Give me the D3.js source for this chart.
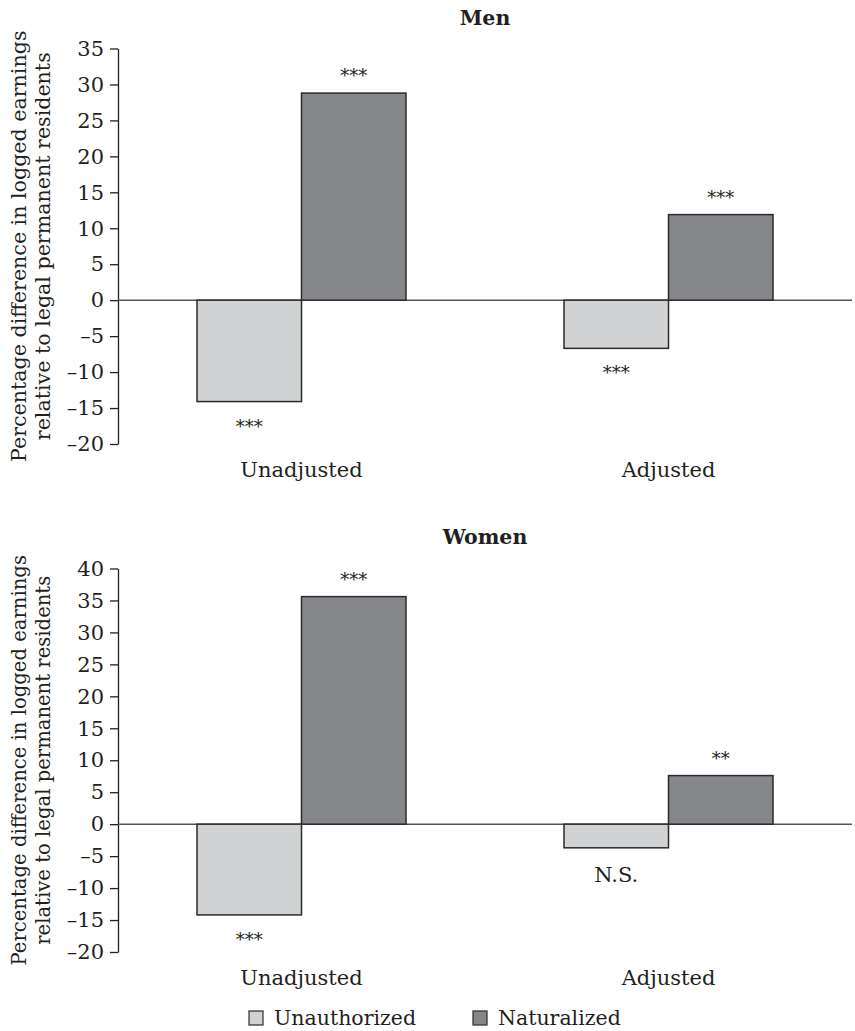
<!DOCTYPE html>
<html>
<head>
<meta charset="utf-8">
<script src="https://cdn.jsdelivr.net/npm/d3@7"></script>
<style>
    body { margin: 0; background: #fff; }
    svg text { font-family: 'DejaVu Serif', serif; fill: #231f20; }
</style>
</head>
<body>
<div id="chart"></div>
<script>
// categories and series
const categories = ['Unadjusted', 'Adjusted'];
const series = ['Unauthorized', 'Naturalized'];

// values (percent)
const menUnauthorized = [-14.1, -6.7];
const menNaturalized = [28.8, 11.9];
const womenUnauthorized = [-14.2, -3.7];
const womenNaturalized = [35.6, 7.6];

// significance labels
const menUnauthorizedSig = ['***', '***'];
const menNaturalizedSig = ['***', '***'];
const womenUnauthorizedSig = ['***', 'N.S.'];
const womenNaturalizedSig = ['***', '**'];

// tick labels
const menTicks = [-20, -15, -10, -5, 0, 5, 10, 15, 20, 25, 30, 35];
const womenTicks = [-20, -15, -10, -5, 0, 5, 10, 15, 20, 25, 30, 35, 40];

const colors = {Unauthorized: '#d1d2d4', Naturalized: '#86878b'};
const yTitle = ['Percentage difference in logged earnings', 'relative to legal permanent residents'];

const width = 855, height = 1031;
const svg = d3.select('#chart').append('svg')
    .attr('width', width)
    .attr('height', height);

let panels = [
    {title: 'Men', titleY: 25, top: 48.5, bottom: 444, ticks: menTicks, titleSize: 20.6,
     vals: [menUnauthorized, menNaturalized], sig: [menUnauthorizedSig, menNaturalizedSig], labelY: 477},
    {title: 'Women', titleY: 544, top: 568.5, bottom: 952, ticks: womenTicks, titleSize: 19.6,
     vals: [womenUnauthorized, womenNaturalized], sig: [womenUnauthorizedSig, womenNaturalizedSig], labelY: 985}
];

const left = 118, right = 852;

let x = d3.scaleBand()
    .domain(categories)
    .range([left, right]);
const barW = 104.5;

panels.forEach(function(p) {
    let y = d3.scaleLinear()
        .domain([d3.min(p.ticks), d3.max(p.ticks)])
        .range([p.bottom, p.top]);

    let g = svg.append('g');

    // title
    g.append('text')
        .attr('x', 485)
        .attr('y', p.titleY)
        .attr('text-anchor', 'middle')
        .style('font-weight', 'bold')
        .style('font-size', '20.5px')
        .text(p.title);

    // y axis
    let axis = g.append('g')
        .attr('transform', `translate(${left},0)`)
        .call(d3.axisLeft(y).tickValues(p.ticks).tickSize(8).tickSizeOuter(0).tickPadding(6)
            .tickFormat(d => d < 0 ? '\u2013' + Math.abs(d) : d));
    axis.select('.domain').attr('stroke', '#231f20').attr('stroke-width', 1.3);
    axis.selectAll('.tick line').attr('stroke', '#231f20').attr('stroke-width', 1.3);
    axis.selectAll('.tick text')
        .style('font-family', "'DejaVu Serif', serif")
        .style('font-size', '21px')
        .attr('fill', '#231f20');

    // y title
    let cy = (p.top + p.bottom) / 2;
    yTitle.forEach(function(t, i) {
        g.append('text')
            .attr('transform', `translate(${26 + i * 24},${cy}) rotate(-90)`)
            .attr('text-anchor', 'middle')
            .style('font-size', p.titleSize + 'px')
            .text(t);
    });

    // zero line
    g.append('line')
        .attr('x1', left).attr('x2', right)
        .attr('y1', y(0)).attr('y2', y(0))
        .attr('stroke', '#555')
        .attr('stroke-width', 1.5);

    // bars
    series.forEach(function(s, si) {
        categories.forEach(function(c, ci) {
            let v = p.vals[si][ci];
            let bx = x(c) + x.bandwidth() / 2 + (si - 1) * barW;
            g.append('rect')
                .attr('x', bx)
                .attr('y', y(Math.max(0, v)))
                .attr('width', barW)
                .attr('height', Math.abs(y(v) - y(0)))
                .attr('fill', colors[s])
                .attr('stroke', '#2b2b2b')
                .attr('stroke-width', 1.5);

            let lab = p.sig[si][ci];
            let star = lab.indexOf('*') >= 0;
            g.append('text')
                .attr('x', bx + barW / 2)
                .attr('y', v >= 0 ? y(v) - 11 : y(v) + (star ? 31 : 34))
                .attr('text-anchor', 'middle')
                .style('font-size', star ? '18px' : '21px')
                .text(lab);
        });
    });

    // category labels
    g.selectAll('.cat')
        .data(categories)
        .join('text')
        .attr('x', d => x(d) + x.bandwidth() / 2)
        .attr('y', p.labelY)
        .attr('text-anchor', 'middle')
        .style('font-size', '21px')
        .text(d => d);
});

// legend
let legend = svg.append('g');
let legX = [249, 473];
series.forEach(function(s, i) {
    legend.append('rect')
        .attr('x', legX[i]).attr('y', 1011)
        .attr('width', 14).attr('height', 14)
        .attr('fill', colors[s])
        .attr('stroke', '#2b2b2b')
        .attr('stroke-width', 1.2);
    legend.append('text')
        .attr('x', legX[i] + 25)
        .attr('y', 1025)
        .style('font-size', '20.5px')
        .text(s);
});
</script>
</body>
</html>
